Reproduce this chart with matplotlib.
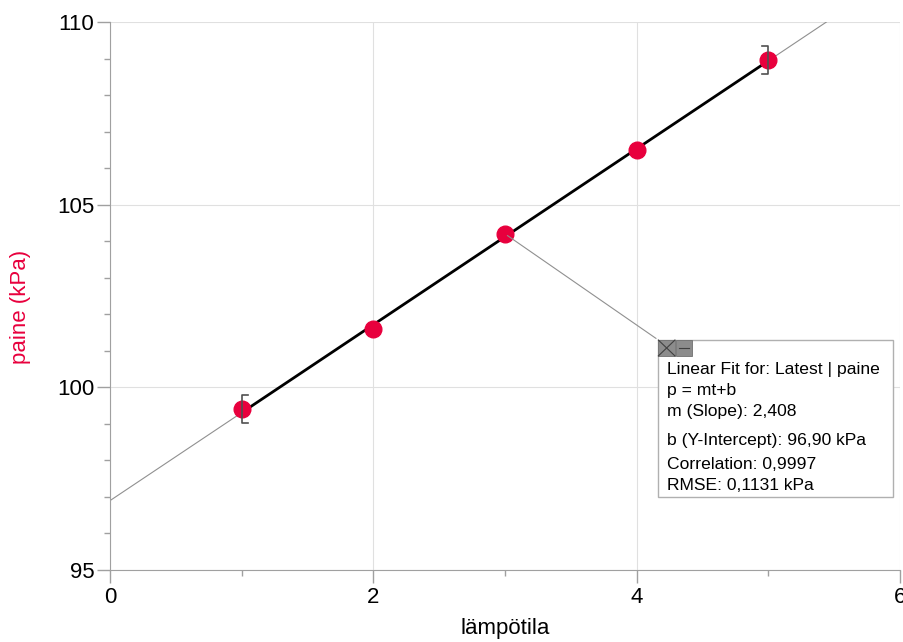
import numpy as np
import matplotlib.pyplot as plt
from matplotlib.patches import Rectangle
from matplotlib.ticker import MultipleLocator

plt.rcParams['font.family'] = ['Liberation Sans', 'DejaVu Sans']

# measured data (lämpötila vs paine)
t = [1, 2, 3, 4, 5]
p = [99.4, 101.6, 104.2, 106.5, 108.95]

# linear fit values from the annotation
m = 2.408
b = 96.90
fit_lines = ["Linear Fit for: Latest | paine",
             "p = mt+b",
             "m (Slope): 2,408",
             "b (Y-Intercept): 96,90 kPa",
             "Correlation: 0,9997",
             "RMSE: 0,1131 kPa"]

red = "#e8003d"
grey = "#a0a0a0"

fig = plt.figure(figsize=(9.04, 6.42), dpi=100)
ax = fig.add_axes([0.1217, 0.1121, 0.874, 0.8536])

ax.set_xlim(0, 6)
ax.set_ylim(95, 110)

# thin extended fit line, then the thick part over the fitted range
xe = np.array([0, (110 - b) / m])
ax.plot(xe, b + m * xe, color="#909090", lw=0.8, zorder=2)
xf = np.array([t[0], t[-1]])
ax.plot(xf, b + m * xf, color="black", lw=2, zorder=3)

ax.plot(t, p, "o", color=red, ms=12, zorder=4)

# range brackets at the ends of the fit
bh = 0.38
bw = 0.05
x0, y0 = t[0], p[0]
ax.plot([x0 + bw, x0, x0, x0 + bw], [y0 + bh, y0 + bh, y0 - bh, y0 - bh],
        color="#505050", lw=1.2, zorder=5)
x1, y1 = t[-1], p[-1]
ax.plot([x1 - bw, x1, x1, x1 - bw], [y1 + bh, y1 + bh, y1 - bh, y1 - bh],
        color="#505050", lw=1.2, zorder=5)

# axes styling
ax.xaxis.set_major_locator(MultipleLocator(2))
ax.xaxis.set_minor_locator(MultipleLocator(1))
ax.yaxis.set_major_locator(MultipleLocator(5))
ax.yaxis.set_minor_locator(MultipleLocator(1))
ax.tick_params(which="major", length=9.4, width=1, color=grey, labelsize=16, pad=2)
ax.tick_params(which="minor", length=4.3, width=1, color=grey)
ax.tick_params(axis="x", which="major", pad=3)
for s in ["top", "right"]:
    ax.spines[s].set_visible(False)
for s in ["left", "bottom"]:
    ax.spines[s].set_color(grey)
ax.grid(True, which="major", color="#e0e0e0", lw=0.8)
ax.set_axisbelow(True)

ax.set_xlabel("lämpötila", fontsize=16)
ax.set_ylabel("paine (kPa)", fontsize=16, color=red)
ax.xaxis.label.set_va("center")
ax.xaxis.set_label_coords(0.5, -0.107)
ax.yaxis.label.set_va("center")
ax.yaxis.set_label_coords(-0.1127, 0.48)

# annotation box
bl, bb, br, bt = 0.694, 0.133, 0.991, 0.4197
ax.add_patch(Rectangle((bl, bb), br - bl, bt - bb, transform=ax.transAxes,
                       facecolor="white", edgecolor="#b0b0b0", lw=1, zorder=6))
# connector from the point to the box
ax.annotate("", xy=(bl, bt), xycoords="axes fraction", xytext=(t[2], p[2]),
            textcoords="data",
            arrowprops=dict(arrowstyle="-", color="#909090", lw=0.8), zorder=5)
# small icons
iw, ih = 0.021, 0.029
for i in range(2):
    ax.add_patch(Rectangle((bl + i * (iw + 0.001), bt - ih), iw, ih,
                           transform=ax.transAxes, facecolor="#8c8c8c",
                           edgecolor="#707070", lw=0.6, zorder=7))
ax.plot([bl, bl + iw], [bt - ih, bt], transform=ax.transAxes, color="#404040", lw=0.8, zorder=8)
ax.plot([bl, bl + iw], [bt, bt - ih], transform=ax.transAxes, color="#404040", lw=0.8, zorder=8)
ax.plot([bl + iw + 0.005, bl + 2 * iw - 0.003], [bt - ih / 2, bt - ih / 2],
        transform=ax.transAxes, color="#404040", lw=0.8, zorder=8)

line_px = [369, 390, 411, 440, 464, 485]
for txt, py in zip(fit_lines, line_px):
    ax.text(bl + 0.011, (570 - py) / 548, txt, transform=ax.transAxes,
            fontsize=12.6, va="center", ha="left", zorder=8)

fig.savefig("out.png", dpi=100)
